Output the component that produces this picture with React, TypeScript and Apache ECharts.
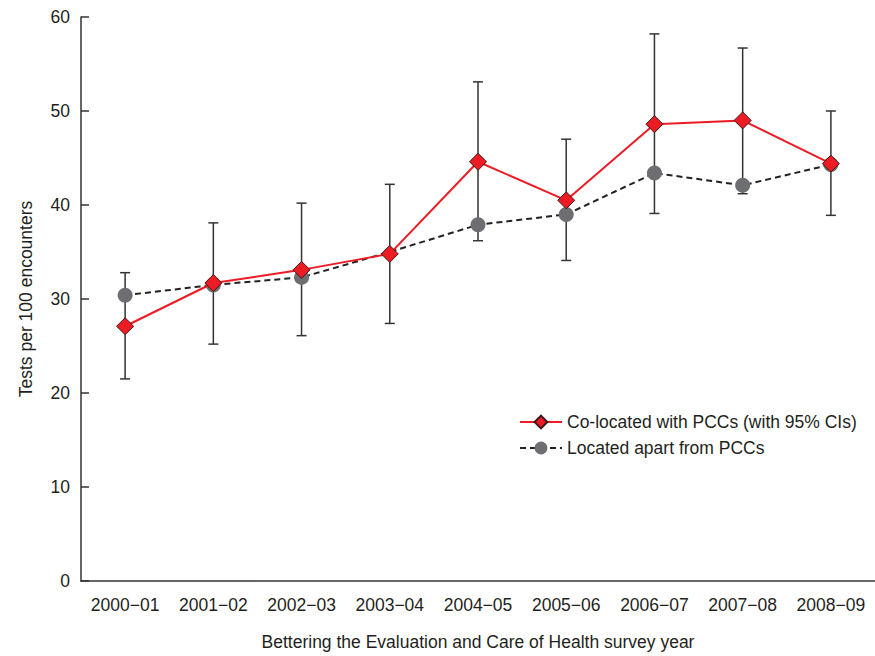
import React, { useEffect, useRef } from "react";
import * as echarts from "echarts";

const categories = ["2000−01", "2001−02", "2002−03", "2003−04", "2004−05", "2005−06", "2006−07", "2007−08", "2008−09"];
const coLocated = [27.1, 31.7, 33.1, 34.8, 44.6, 40.5, 48.6, 49.0, 44.4];
const ciLow = [21.5, 25.2, 26.1, 27.4, 36.2, 34.1, 39.1, 41.2, 38.9];
const ciHigh = [32.8, 38.1, 40.2, 42.2, 53.1, 47.0, 58.2, 56.7, 50.0];
const apart = [30.4, 31.5, 32.3, 35.0, 37.9, 39.0, 43.4, 42.1, 44.3];
const apartHiddenMarker = [false, false, false, true, false, false, false, false, false];
const yTicks = [0, 10, 20, 30, 40, 50, 60];

const FONT = "Liberation Sans";
const TEXT = "#231f20";
const FS = 17.5;

export default function App() {
  const ref = useRef<HTMLDivElement>(null);
  useEffect(() => {
    if (!ref.current) return;
    const chart = echarts.init(ref.current, null, { renderer: "svg" });
    const errData = categories.map((_, i) => [i, ciLow[i], ciHigh[i]]);
    chart.setOption({
      animation: false,
      textStyle: { fontFamily: FONT },
      grid: { left: 81, right: 0, top: 17, bottom: 64 },
      legend: {
        left: 514,
        top: 408,
        orient: "vertical",
        itemWidth: 42,
        itemHeight: 16,
        itemGap: 8,
        textStyle: { fontSize: FS, color: TEXT, fontFamily: FONT },
        data: ["Co-located with PCCs (with 95% CIs)", "Located apart from PCCs"],
      },
      xAxis: {
        type: "category",
        data: categories,
        boundaryGap: true,
        name: "Bettering the Evaluation and Care of Health survey year",
        nameLocation: "middle",
        nameGap: 52,
        nameTextStyle: { fontSize: FS, color: TEXT, fontFamily: FONT },
        axisLine: { lineStyle: { color: "#333", width: 1.5 } },
        axisTick: { inside: true, length: 8, alignWithLabel: true, interval: 0, lineStyle: { color: "#333", width: 1.5 } },
        axisLabel: { fontSize: FS, color: TEXT, margin: 15, fontFamily: FONT, interval: 0 },
      },
      yAxis: {
        type: "value",
        min: 0,
        max: 60,
        interval: 10,
        name: "Tests per 100 encounters",
        nameLocation: "middle",
        nameGap: 46,
        nameTextStyle: { fontSize: FS, color: TEXT, fontFamily: FONT },
        axisLine: { show: true, lineStyle: { color: "#333", width: 1.5 } },
        axisTick: { show: true, inside: true, length: 8, lineStyle: { color: "#333", width: 1.5 } },
        axisLabel: {
          fontSize: FS,
          color: TEXT,
          margin: 11,
          fontFamily: FONT,
          formatter: (v: number) => (yTicks.includes(v) ? String(v) : ""),
        },
        splitLine: { show: false },
      },
      series: [
        {
          type: "custom",
          name: "CI",
          z: 1,
          data: errData,
          encode: { x: 0, y: [1, 2] },
          renderItem: (params: any, api: any) => {
            const x = api.value(0);
            const lo = api.coord([x, api.value(1)]);
            const hi = api.coord([x, api.value(2)]);
            const hw = 5;
            const style = { stroke: "#333", lineWidth: 1.5 };
            return {
              type: "group",
              children: [
                { type: "line", shape: { x1: lo[0], y1: lo[1], x2: hi[0], y2: hi[1] }, style },
                { type: "line", shape: { x1: lo[0] - hw, y1: lo[1], x2: lo[0] + hw, y2: lo[1] }, style },
                { type: "line", shape: { x1: hi[0] - hw, y1: hi[1], x2: hi[0] + hw, y2: hi[1] }, style },
              ],
            };
          },
        },
        {
          type: "line",
          name: "Located apart from PCCs",
          z: 2,
          data: apart.map((v, i) => (apartHiddenMarker[i] ? { value: v, symbol: "none" } : v)),
          symbol: "circle",
          symbolSize: 15,
          itemStyle: { color: "#6d6e71", borderWidth: 0 },
          lineStyle: { color: "#222", width: 2, type: [6, 4] },
        },
        {
          type: "line",
          name: "Co-located with PCCs (with 95% CIs)",
          z: 3,
          data: coLocated,
          symbol: "diamond",
          symbolSize: 17,
          itemStyle: { color: "#ed1c24", borderColor: "#3a1a1a", borderWidth: 1 },
          lineStyle: { color: "#ed1c24", width: 2 },
        },
      ],
    });
    return () => chart.dispose();
  }, []);
  return <div ref={ref} style={{ width: 875, height: 656, position: "absolute", left: 0, top: 0 }} />;
}
